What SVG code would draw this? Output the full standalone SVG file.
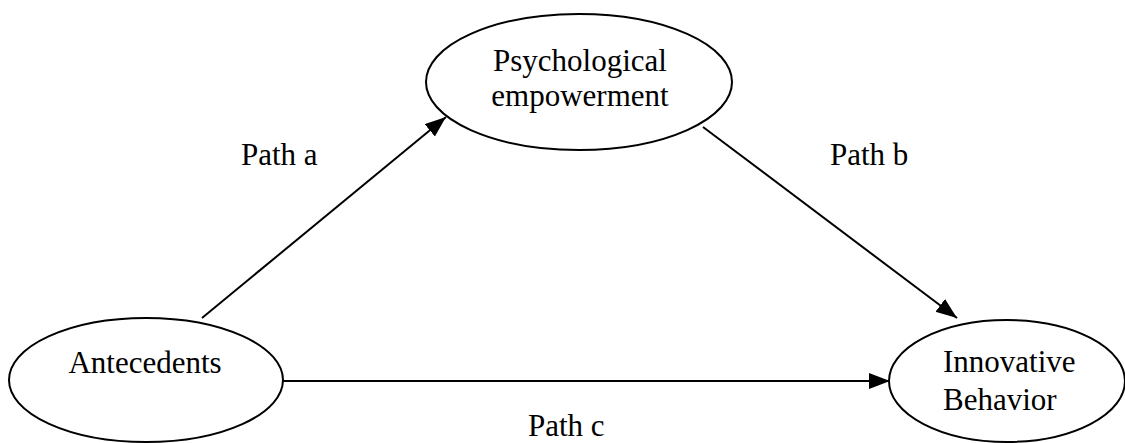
<svg xmlns="http://www.w3.org/2000/svg" width="1125" height="443" viewBox="0 0 1125 443">
<style>
.node ellipse{fill:#fff;stroke:#000;stroke-width:2}
text{font-family:"Liberation Serif","Times New Roman",serif;font-size:31px;fill:#000}
.edge{stroke:#000;stroke-width:2;fill:none;marker-end:url(#arr)}
</style>
<defs>
<marker id="arr" markerUnits="userSpaceOnUse" markerWidth="24" markerHeight="18" refX="21" refY="8" orient="auto">
<path d="M0,0 L21,8 L0,16 z" fill="#000"/>
</marker>
</defs>
<rect width="1125" height="443" fill="#fff"/>
<g id="connectors">
<line class="edge" x1="202" y1="318" x2="446" y2="117"/>
<line class="edge" x1="703" y1="127" x2="957" y2="318"/>
<line class="edge" x1="283" y1="381" x2="890" y2="381"/>
</g>
<g id="psych" class="node">
<ellipse cx="579" cy="82" rx="153" ry="68"/>
<text x="580" y="71" text-anchor="middle">Psychological</text>
<text x="580" y="106" text-anchor="middle">empowerment</text>
</g>
<g id="antecedents" class="node">
<ellipse cx="146" cy="380" rx="137" ry="62"/>
<text x="145" y="373" text-anchor="middle">Antecedents</text>
</g>
<g id="innovative" class="node">
<ellipse cx="1007" cy="381" rx="118" ry="61"/>
<text x="943" y="372">Innovative</text>
<text x="943" y="410">Behavior</text>
</g>
<g id="labels">
<text x="241" y="165">Path a</text>
<text x="830" y="165">Path b</text>
<text x="528" y="436">Path c</text>
</g>
</svg>
